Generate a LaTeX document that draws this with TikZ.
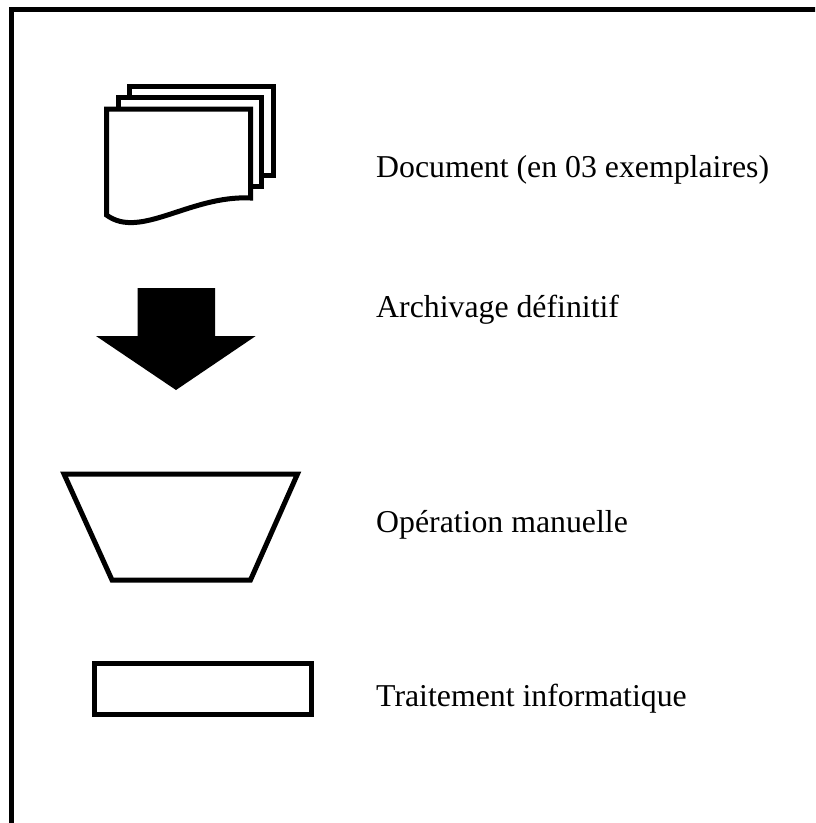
\documentclass[tikz,border=0pt]{standalone}
\usepackage{fontspec}
\setmainfont{Liberation Serif}
\begin{document}
\begin{tikzpicture}[x=1pt,y=-1pt,
  outline/.style={draw=black,line width=5pt,line join=miter,fill=white},
  legend/.style={anchor=base west,inner sep=0pt,font=\fontsize{31.8}{36}\selectfont}]
\useasboundingbox (0,0) rectangle (815,823);
\clip (0,0) rectangle (815,823);
% frame (only the left and top sides fall inside the page)
\draw[line width=5pt] (11.5,830) -- (11.5,9.5) -- (830,9.5);

% stacked documents
\draw[outline] (129.5,86.5) rectangle (273.5,175.5);
\draw[outline] (118,97.5) rectangle (261.5,186.5);
\draw[outline] (106.5,109) -- (250.5,109) -- (250.5,198)
  .. controls (190,195) and (140,240) .. (106.5,215) -- cycle;
\node[legend] (doc) at (376,177) {Document (en 03 exemplaires)};

% block arrow
\fill (137.7,288) -- (215,288) -- (215,336) -- (255.7,336) -- (176,390)
  -- (96,336) -- (137.7,336) -- cycle;
\node[legend] (arch) at (376,317) {Archivage définitif};

% manual operation trapezoid
\draw[outline] (64,474) -- (297.5,474) -- (250.5,580) -- (112,580) -- cycle;
\node[legend] (manu) at (376,532) {Opération manuelle};

% processing rectangle
\draw[outline] (94.5,663) rectangle (311,714);
\node[legend] (info) at (376,706) {Traitement informatique};
\end{tikzpicture}
\end{document}
